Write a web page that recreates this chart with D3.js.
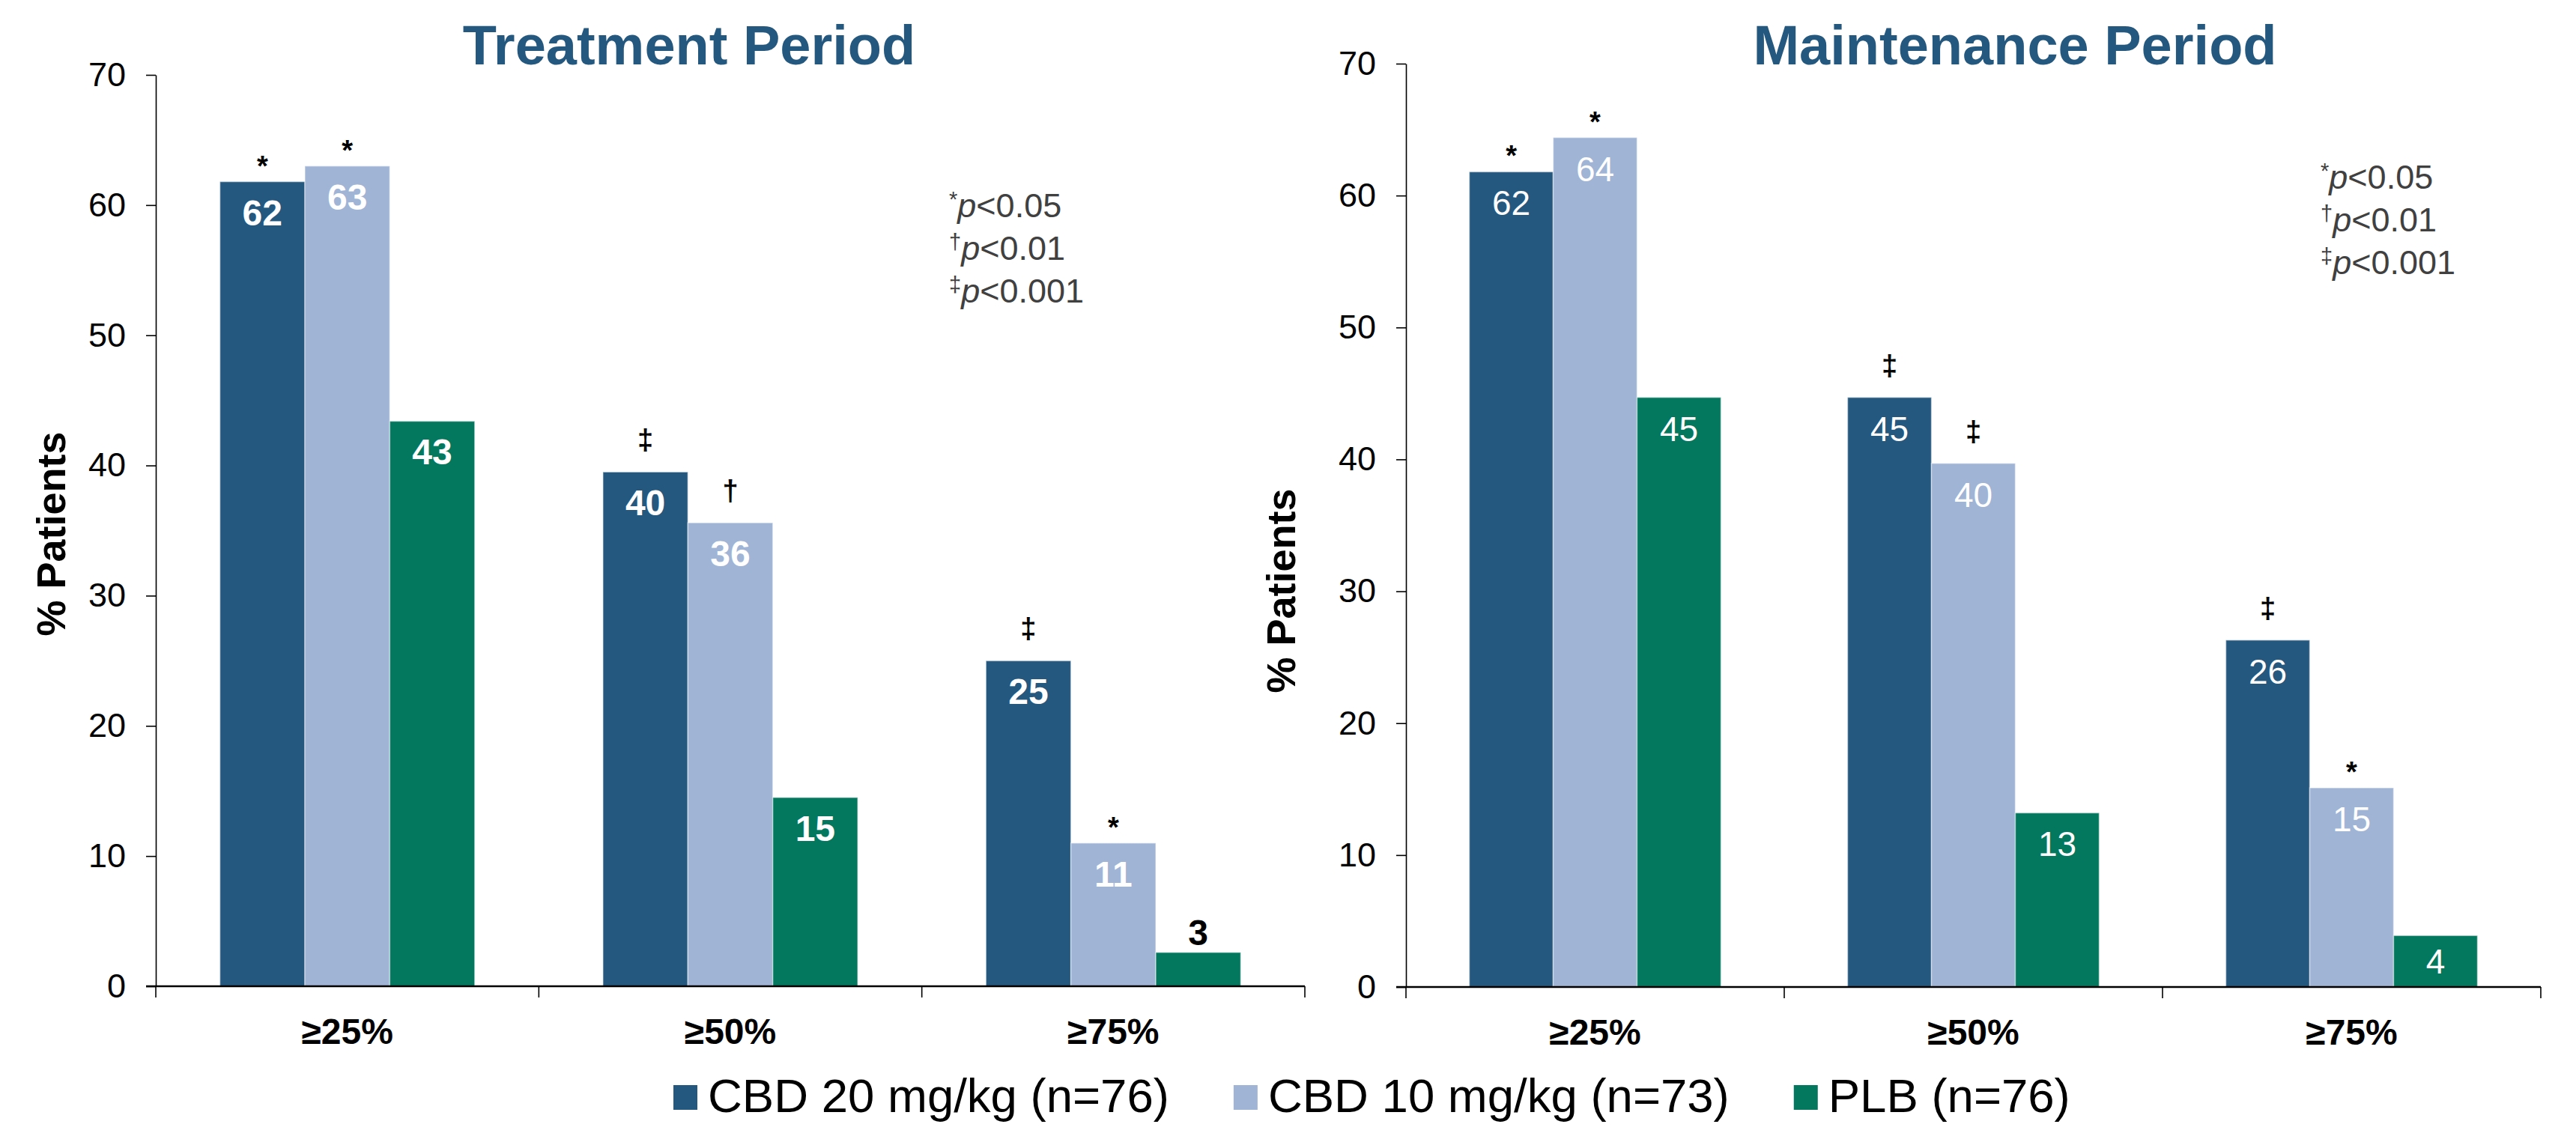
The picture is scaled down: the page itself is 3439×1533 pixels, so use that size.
<!DOCTYPE html>
<html>
<head>
<meta charset="utf-8">
<script src="https://cdn.jsdelivr.net/npm/d3@7"></script>
<style>
  html, body { margin: 0; padding: 0; background: #ffffff; }
  svg { display: block; font-family: "Liberation Sans", Arial, Helvetica, sans-serif; }
</style>
</head>
<body>
<svg id="chart" width="3439" height="1533"></svg>
<script>
// ---------------- DATA ----------------
const categories = ["≥25%", "≥50%", "≥75%"];
const seriesNames = ["CBD 20 mg/kg (n=76)", "CBD 10 mg/kg (n=73)", "PLB (n=76)"];
const seriesColors = ["#25587f", "#a0b4d5", "#04785f"];
const yTicks = [0, 10, 20, 30, 40, 50, 60, 70];

// values per category (rows) and series (columns)
const treatmentValues = [
  [61.8, 63.0, 43.4],
  [39.5, 35.6, 14.5],
  [25.0, 11.0, 2.6]
];
const treatmentMarks = [
  ["*", "*", ""],
  ["‡", "†", ""],
  ["‡", "*", ""]
];
const maintenanceValues = [
  [61.8, 64.4, 44.7],
  [44.7, 39.7, 13.2],
  [26.3, 15.1, 3.9]
];
const maintenanceMarks = [
  ["*", "*", ""],
  ["‡", "‡", ""],
  ["‡", "*", ""]
];
const pSymbols = ["*", "†", "‡"];
const pThresholds = ["<0.05", "<0.01", "<0.001"];
const yAxisTitle = "% Patients";

// ---------------- LAYOUT ----------------
const panels = [
  { title: "Treatment Period", values: treatmentValues, marks: treatmentMarks,
    left: 208, right: 1742, top: 100, bottom: 1317,
    titleX: 920, titleY: 86, ylabX: 87, ylabY: 713,
    pX: 1267, pY: 290, bold: true, small: "above" },
  { title: "Maintenance Period", values: maintenanceValues, marks: maintenanceMarks,
    left: 1877, right: 3392, top: 85, bottom: 1318,
    titleX: 2690, titleY: 86, ylabX: 1729, ylabY: 789,
    pX: 3098, pY: 252, bold: false, small: "center" }
];

const svg = d3.select("#chart");

panels.forEach(p => {
  const g = svg.append("g");
  const x0 = d3.scaleBand().domain(categories).range([p.left, p.right]).padding(0);
  const x1 = d3.scaleBand().domain(seriesNames).range([0, x0.bandwidth()])
    .paddingInner(0).paddingOuter(0.755);
  const y = d3.scaleLinear().domain([0, 70]).range([p.bottom, p.top]);

  // title
  g.append("text").attr("x", p.titleX).attr("y", p.titleY)
    .attr("text-anchor", "middle").attr("font-size", 74).attr("font-weight", "bold")
    .attr("fill", "#25587f").text(p.title);

  // y axis
  const yAxis = d3.axisLeft(y).tickValues(yTicks).tickSize(13).tickSizeOuter(0).tickPadding(27);
  const ya = g.append("g").attr("transform", `translate(${p.left},0)`).call(yAxis);
  ya.select(".domain").attr("stroke", "#000").attr("stroke-width", 1.6);
  ya.selectAll(".tick line").attr("stroke", "#000").attr("stroke-width", 1.6);
  ya.selectAll(".tick text").attr("font-size", 45).attr("fill", "#000")
    .attr("font-family", "'Liberation Sans', Arial, sans-serif");

  // y axis title
  g.append("text").attr("transform", `translate(${p.ylabX},${p.ylabY}) rotate(-90)`)
    .attr("text-anchor", "middle").attr("font-size", 54).attr("font-weight", "bold")
    .attr("fill", "#000").text(yAxisTitle);

  // bars
  const groups = g.selectAll("g.cat").data(categories).join("g")
    .attr("class", "cat").attr("transform", c => `translate(${x0(c)},0)`);

  groups.each(function(c, ci) {
    const cg = d3.select(this);
    seriesNames.forEach((s, si) => {
      const v = p.values[ci][si];
      const bx = x1(s), bw = x1.bandwidth(), by = y(v), bh = y(0) - y(v);
      cg.append("rect").attr("x", bx).attr("y", by).attr("width", bw).attr("height", bh)
        .attr("fill", seriesColors[si]).attr("stroke", "rgba(255,255,255,0.45)").attr("stroke-width", 1.5);
      // value label
      const lbl = String(Math.round(v));
      const t = cg.append("text").attr("x", bx + bw / 2).attr("text-anchor", "middle")
        .attr("font-size", p.bold ? 48 : 46).attr("font-weight", p.bold ? "bold" : "normal").text(lbl);
      if (bh < 80) {
        if (p.small === "above") {
          t.attr("y", by - 10).attr("fill", "#000");
        } else {
          t.attr("y", by + bh / 2 + 16).attr("fill", "#fff");
        }
      } else {
        t.attr("y", by + 58).attr("fill", "#fff");
      }
      // significance mark
      const m = p.marks[ci][si];
      if (m) {
        const off = m === "*" ? 8 : 30;
        cg.append("text").attr("x", bx + bw / 2).attr("y", by - off)
          .attr("text-anchor", "middle").attr("font-size", 38).attr("font-weight", "bold")
          .attr("fill", "#000").text(m);
      }
    });
  });

  // x axis line + boundary ticks
  g.append("line").attr("x1", p.left - 13).attr("x2", p.right)
    .attr("y1", y(0)).attr("y2", y(0)).attr("stroke", "#000").attr("stroke-width", 2.5);
  const bounds = categories.map(c => x0(c)).concat([x0.range()[1]]);
  g.selectAll("line.bt").data(bounds).join("line").attr("class", "bt")
    .attr("x1", d => d).attr("x2", d => d).attr("y1", y(0)).attr("y2", y(0) + 15)
    .attr("stroke", "#000").attr("stroke-width", 1.6);
  // category labels
  g.selectAll("text.cl").data(categories).join("text").attr("class", "cl")
    .attr("x", c => x0(c) + x0.bandwidth() / 2).attr("y", y(0) + 77)
    .attr("text-anchor", "middle").attr("font-size", 48).attr("font-weight", "bold")
    .attr("fill", "#000").text(c => c);

  // p-value legend
  pSymbols.forEach((sym, i) => {
    const t = g.append("text").attr("x", p.pX).attr("y", p.pY + i * 57)
      .attr("font-size", 45).attr("fill", "#404040");
    t.append("tspan").attr("font-size", 29).attr("dy", -14).text(sym);
    t.append("tspan").attr("font-style", "italic").attr("dy", 14).text("p");
    t.append("tspan").text(pThresholds[i]);
  });
});

// ---------------- SERIES LEGEND ----------------
const leg = svg.append("g");
let lx = 899;
seriesNames.forEach((s, i) => {
  leg.append("rect").attr("x", lx).attr("y", 1449).attr("width", 32).attr("height", 33)
    .attr("fill", seriesColors[i]);
  const t = leg.append("text").attr("x", lx + 46).attr("y", 1485)
    .attr("font-size", 63.5).attr("fill", "#000").text(s);
  lx = lx + 46 + t.node().getComputedTextLength() + 86;
});
</script>
</body>
</html>
